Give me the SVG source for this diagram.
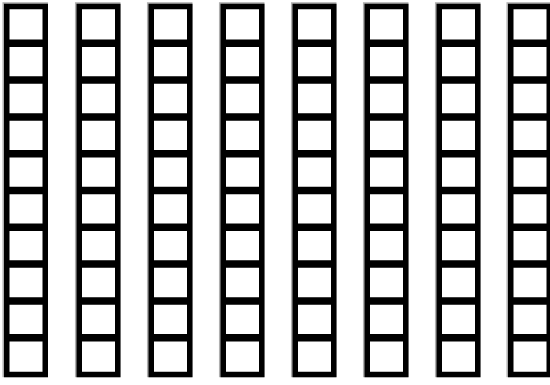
<svg xmlns="http://www.w3.org/2000/svg" xmlns:xlink="http://www.w3.org/1999/xlink" width="550" height="385" viewBox="0 0 550 385">
  <style>
    .halo { fill: none; stroke: #b0b0b0; stroke-width: 7; }
    .frame { fill: #ffffff; stroke: #000000; stroke-width: 5.5; }
    .bar { stroke: #000000; stroke-width: 7.5; }
    .halobar { stroke: #b0b0b0; stroke-width: 9; }
  </style>
  <defs>
    <g id="rod">
      <g transform="translate(-0.8,-0.8)">
        <rect class="halo" x="2.75" y="2.5" width="38.5" height="368"/>
        <path class="halobar" d="M2.75 39.3H41.25M2.75 76.1H41.25M2.75 112.9H41.25M2.75 149.7H41.25M2.75 186.5H41.25M2.75 223.3H41.25M2.75 260.1H41.25M2.75 296.9H41.25M2.75 333.7H41.25"/>
      </g>
      <rect class="frame" x="2.75" y="2.5" width="38.5" height="368"/>
      <path class="bar" d="M2.75 39.3H41.25M2.75 76.1H41.25M2.75 112.9H41.25M2.75 149.7H41.25M2.75 186.5H41.25M2.75 223.3H41.25M2.75 260.1H41.25M2.75 296.9H41.25M2.75 333.7H41.25"/>
    </g>
  </defs>
  <rect width="550" height="385" fill="#ffffff"/>
  <g id="rod1"><use xlink:href="#rod" href="#rod" x="4" y="4"/></g>
  <g id="rod2"><use xlink:href="#rod" href="#rod" x="76.5" y="4"/></g>
  <g id="rod3"><use xlink:href="#rod" href="#rod" x="148.5" y="4"/></g>
  <g id="rod4"><use xlink:href="#rod" href="#rod" x="220.5" y="4"/></g>
  <g id="rod5"><use xlink:href="#rod" href="#rod" x="292.5" y="4"/></g>
  <g id="rod6"><use xlink:href="#rod" href="#rod" x="364.5" y="4"/></g>
  <g id="rod7"><use xlink:href="#rod" href="#rod" x="436.5" y="4"/></g>
  <g id="rod8"><use xlink:href="#rod" href="#rod" x="508" y="4"/></g>
  <g id="connectors"/>
</svg>
